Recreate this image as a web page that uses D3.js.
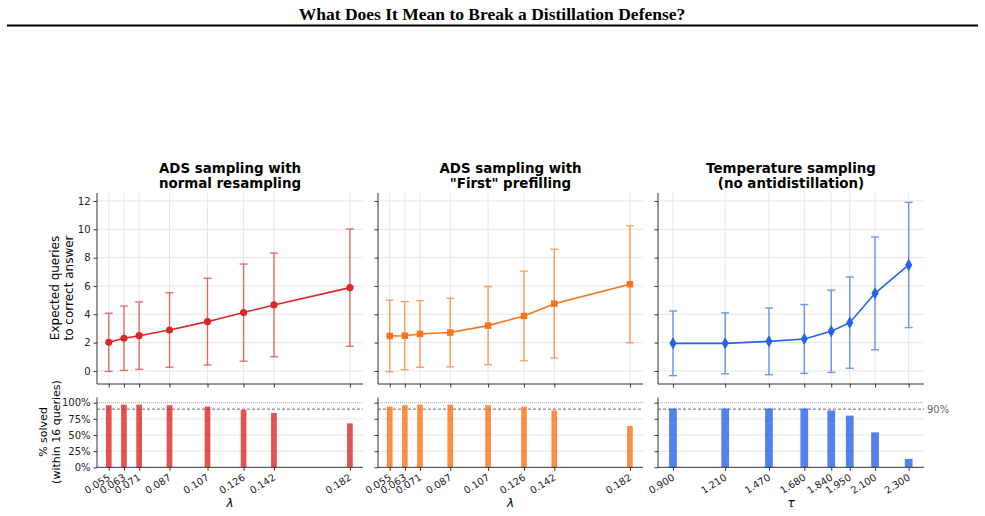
<!DOCTYPE html>
<html>
<head>
<meta charset="utf-8">
<script src="https://cdn.jsdelivr.net/npm/d3@7"></script>
<style>
  body { margin: 0; background: #fff; }
  svg { display: block; font-family: "DejaVu Sans", sans-serif; }
</style>
</head>
<body>
<div class="vis"></div>
<script>
const w = 985;
const h = 516;

// data
const lambdas = [0.055, 0.063, 0.071, 0.087, 0.107, 0.126, 0.142, 0.182];
const lambdaLabels = ["0.055", "0.063", "0.071", "0.087", "0.107", "0.126", "0.142", "0.182"];
const taus = [0.9, 1.21, 1.47, 1.68, 1.84, 1.95, 2.1, 2.3];
const tauLabels = ["0.900", "1.210", "1.470", "1.680", "1.840", "1.950", "2.100", "2.300"];

const adsNormalMean = [2.02, 2.31, 2.49, 2.89, 3.48, 4.12, 4.66, 5.88];
const adsNormalErr = [2.05, 2.27, 2.38, 2.63, 3.06, 3.43, 3.66, 4.14];
const adsFirstMean = [2.47, 2.49, 2.61, 2.71, 3.20, 3.88, 4.75, 6.12];
const adsFirstErr = [2.52, 2.40, 2.35, 2.42, 2.76, 3.16, 3.84, 4.13];
const tempMean = [1.95, 1.95, 2.09, 2.26, 2.80, 3.41, 5.48, 7.48];
const tempErr = [2.28, 2.15, 2.35, 2.43, 2.90, 3.22, 3.98, 4.42];

const adsNormalSolved = [0.96, 0.97, 0.97, 0.96, 0.94, 0.89, 0.84, 0.68];
const adsFirstSolved = [0.94, 0.96, 0.97, 0.97, 0.96, 0.94, 0.88, 0.64];
const tempSolved = [0.91, 0.91, 0.91, 0.91, 0.88, 0.80, 0.54, 0.13];

const yTicksTop = [0, 2, 4, 6, 8, 10, 12];
const yTicksBottom = [0, 0.25, 0.5, 0.75, 1];

const panels = [
  {
    title: ["ADS sampling with", "normal resampling"],
    xs: lambdas, labels: lambdaLabels, mean: adsNormalMean, err: adsNormalErr,
    solved: adsNormalSolved, color: "#dc2626", marker: d3.symbolCircle, msize: 40,
    x0: 97, x1: 363, dom: [0.0488, 0.1889], barW: 0.003, xlab: "λ"
  },
  {
    title: ["ADS sampling with", "\"First\" prefilling"],
    xs: lambdas, labels: lambdaLabels, mean: adsFirstMean, err: adsFirstErr,
    solved: adsFirstSolved, color: "#f97316", marker: d3.symbolSquare, msize: 42,
    x0: 378, x1: 643, dom: [0.0488, 0.1889], barW: 0.003, xlab: "λ"
  },
  {
    title: ["Temperature sampling", "(no antidistillation)"],
    xs: taus, labels: tauLabels, mean: tempMean, err: tempErr,
    solved: tempSolved, color: "#2563eb", marker: d3.symbolDiamond, msize: 44,
    x0: 658, x1: 924, dom: [0.811, 2.391], barW: 0.046, xlab: "τ"
  }
];

const svg = d3.select(".vis").append("svg")
  .attr("width", w)
  .attr("height", h);

svg.append("rect").attr("width", w).attr("height", h).attr("fill", "#fff");

// page header
svg.append("text")
  .attr("x", 492)
  .attr("y", 20)
  .attr("text-anchor", "middle")
  .style("font-family", "'Liberation Serif', 'Times New Roman', serif")
  .style("font-weight", "bold")
  .style("font-size", "17.5px")
  .text("What Does It Mean to Break a Distillation Defense?");

svg.append("line")
  .attr("x1", 7).attr("x2", 978)
  .attr("y1", 25.5).attr("y2", 25.5)
  .attr("stroke", "#000")
  .attr("stroke-width", 2);

const yTop = d3.scaleLinear().domain([-0.92, 12.56]).range([384, 193]);
const yBot = d3.scaleLinear().domain([0, 1.08]).range([467.3, 397.5]);

panels.forEach((p, pi) => {
  const x = d3.scaleLinear().domain(p.dom).range([p.x0, p.x1]);
  const g = svg.append("g");

  // title
  const t = g.append("text")
    .attr("x", (p.x0 + p.x1) / 2)
    .attr("y", 173)
    .attr("text-anchor", "middle")
    .style("font-weight", "bold")
    .style("font-size", "13.4px");
  t.append("tspan").attr("x", (p.x0 + p.x1) / 2).text(p.title[0]);
  t.append("tspan").attr("x", (p.x0 + p.x1) / 2).attr("dy", 14.5).text(p.title[1]);

  // ---- top panel ----
  const top = g.append("g");
  // grid
  top.selectAll(".gy").data(yTicksTop).enter().append("line")
    .attr("x1", p.x0).attr("x2", p.x1)
    .attr("y1", (d) => yTop(d)).attr("y2", (d) => yTop(d))
    .attr("stroke", "#e6e6e6").attr("stroke-width", 1);
  top.selectAll(".gx").data(p.xs).enter().append("line")
    .attr("x1", (d) => x(d)).attr("x2", (d) => x(d))
    .attr("y1", 193).attr("y2", 384)
    .attr("stroke", "#e6e6e6").attr("stroke-width", 1);

  const yAxisTop = d3.axisLeft(yTop).tickValues(yTicksTop).tickSize(3.5).tickPadding(3)
    .tickFormat(pi === 0 ? d3.format("d") : () => "");
  top.append("g")
    .attr("transform", `translate(${p.x0},0)`)
    .call(yAxisTop)
    .call((a) => a.select(".domain").attr("d", `M-0,193V384`));

  const xAxisTop = d3.axisBottom(x).tickValues(p.xs).tickSize(3.5).tickFormat(() => "");
  top.append("g")
    .attr("transform", `translate(0,384)`)
    .call(xAxisTop)
    .call((a) => a.select(".domain").attr("d", `M${p.x0},0H${p.x1}`));

  // error bars
  const eb = top.append("g").attr("stroke", p.color).attr("stroke-width", 1.4).attr("opacity", 0.65);
  p.xs.forEach((xv, i) => {
    const lo = yTop(p.mean[i] - p.err[i]);
    const hi = yTop(p.mean[i] + p.err[i]);
    eb.append("line").attr("x1", x(xv)).attr("x2", x(xv)).attr("y1", lo).attr("y2", hi);
    eb.append("line").attr("x1", x(xv) - 4).attr("x2", x(xv) + 4).attr("y1", lo).attr("y2", lo);
    eb.append("line").attr("x1", x(xv) - 4).attr("x2", x(xv) + 4).attr("y1", hi).attr("y2", hi);
  });

  const line = d3.line().x((d, i) => x(p.xs[i])).y((d) => yTop(d));
  top.append("path")
    .datum(p.mean)
    .attr("d", line)
    .attr("fill", "none")
    .attr("stroke", p.color)
    .attr("stroke-width", 1.6);

  top.selectAll(".pt").data(p.mean).enter().append("path")
    .attr("d", d3.symbol().type(p.marker).size(p.msize))
    .attr("transform", (d, i) => `translate(${x(p.xs[i])},${yTop(d)})`)
    .attr("fill", p.color);

  // ---- bottom panel ----
  const bot = g.append("g");
  bot.selectAll(".gy").data([0.25, 0.5, 0.75]).enter().append("line")
    .attr("x1", p.x0).attr("x2", p.x1)
    .attr("y1", (d) => yBot(d)).attr("y2", (d) => yBot(d))
    .attr("stroke", "#e6e6e6").attr("stroke-width", 1);

  bot.append("line")
    .attr("x1", p.x0).attr("x2", p.x1)
    .attr("y1", yBot(1)).attr("y2", yBot(1))
    .attr("stroke", "#aaa").attr("stroke-width", 1)
    .attr("stroke-dasharray", "1,1");
  bot.append("line")
    .attr("x1", p.x0).attr("x2", p.x1)
    .attr("y1", yBot(0.9)).attr("y2", yBot(0.9))
    .attr("stroke", "#444").attr("stroke-width", 0.8)
    .attr("stroke-dasharray", "3,2");

  bot.selectAll(".bar").data(p.solved).enter().append("rect")
    .attr("x", (d, i) => x(p.xs[i] - p.barW / 2))
    .attr("y", (d) => yBot(d))
    .attr("width", (d, i) => x(p.xs[i] + p.barW / 2) - x(p.xs[i] - p.barW / 2))
    .attr("height", (d) => yBot(0) - yBot(d))
    .attr("fill", p.color)
    .attr("opacity", 0.8);

  const yAxisBot = d3.axisLeft(yBot).tickValues(yTicksBottom).tickSize(3.5).tickPadding(3)
    .tickFormat(pi === 0 ? d3.format(".0%") : () => "");
  bot.append("g")
    .attr("transform", `translate(${p.x0},0)`)
    .call(yAxisBot)
    .call((a) => a.select(".domain").attr("d", `M-0,397.5V467.3`));

  const xAxisBot = d3.axisBottom(x).tickValues(p.xs).tickSize(3.5)
    .tickFormat((d, i) => p.labels[i]);
  const xb = bot.append("g")
    .attr("transform", `translate(0,467.3)`)
    .call(xAxisBot)
    .call((a) => a.select(".domain").attr("d", `M${p.x0},0H${p.x1}`));
  xb.selectAll("text")
    .attr("text-anchor", "end")
    .attr("x", 0)
    .attr("y", 0)
    .attr("dy", "0.72em")
    .attr("transform", "translate(-2,6) rotate(-32)")
    .style("font-size", "9.8px");

  bot.append("text")
    .attr("x", (p.x0 + p.x1) / 2)
    .attr("y", 507)
    .attr("text-anchor", "middle")
    .style("font-size", "12px")
    .style("font-style", "italic")
    .text(p.xlab);

  if (pi === 2) {
    bot.append("text")
      .attr("x", p.x1 + 3)
      .attr("y", yBot(0.9))
      .attr("dy", "0.35em")
      .style("font-size", "10px")
      .attr("fill", "#666")
      .text("90%");
  }
});

// axis styling
svg.selectAll(".tick text")
  .style("font-family", "'DejaVu Sans', sans-serif")
  .attr("fill", "#222");
svg.selectAll(".tick").filter(function () { return !d3.select(this).select("text").style("font-size").startsWith("9"); })
  .select("text").style("font-size", "10px");
svg.selectAll(".tick line").attr("stroke", "#333");
svg.selectAll(".domain").attr("stroke", "#333");

// y labels
const yl1 = svg.append("text")
  .attr("transform", "translate(59,288) rotate(-90)")
  .attr("text-anchor", "middle")
  .style("font-size", "12px");
yl1.append("tspan").attr("x", 0).text("Expected queries");
yl1.append("tspan").attr("x", 0).attr("dy", 14).text("to correct answer");

const yl2 = svg.append("text")
  .attr("transform", "translate(47,432) rotate(-90)")
  .attr("text-anchor", "middle")
  .style("font-size", "11px");
yl2.append("tspan").attr("x", 0).text("% solved");
yl2.append("tspan").attr("x", 0).attr("dy", 13).text("(within 16 queries)");
</script>
</body>
</html>
